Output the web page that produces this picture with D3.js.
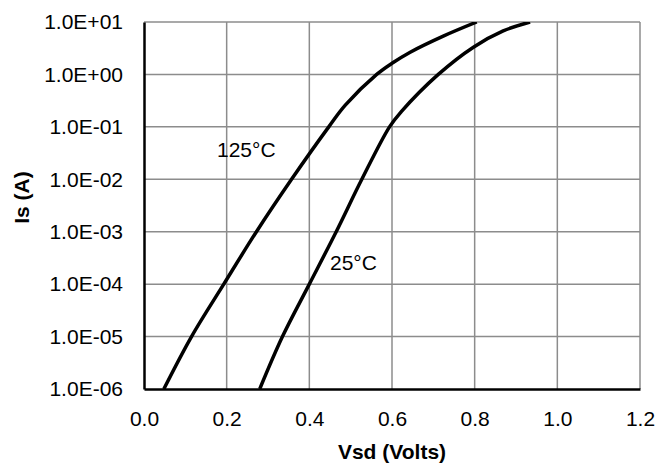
<!DOCTYPE html>
<html>
<head>
<meta charset="utf-8">
<script src="https://cdn.jsdelivr.net/npm/d3@7"></script>
<style>
  body { margin: 0; background: #fff; }
  text { font-family: Arial, "Liberation Sans", sans-serif; fill: #000; }
</style>
</head>
<body>
<div id="chart"></div>
<script>
// Data
const vsd125 = [0.048, 0.115, 0.193, 0.272, 0.357, 0.447, 0.487, 0.563, 0.6, 0.644, 0.724, 0.805];
const is125 = [1e-6, 1e-5, 1e-4, 1e-3, 1e-2, 0.1, 0.259, 1, 1.63, 2.65, 5.37, 10];
const vsd25 = [0.28, 0.335, 0.4, 0.465, 0.527, 0.594, 0.622, 0.712, 0.797, 0.869, 0.934];
const is25 = [1e-6, 1e-5, 1e-4, 1e-3, 1e-2, 0.1, 0.193, 1, 3.31, 6.76, 10];
const xTicks = [0, 0.2, 0.4, 0.6, 0.8, 1.0, 1.2];
const yTicks = [1e-6, 1e-5, 1e-4, 1e-3, 1e-2, 1e-1, 1, 10];
const yTickLabels = ["1.0E-06", "1.0E-05", "1.0E-04", "1.0E-03", "1.0E-02", "1.0E-01", "1.0E+00", "1.0E+01"];

const width = 667, height = 469;
const margin = { top: 22, right: 27, bottom: 80, left: 144 };
const w = width - margin.left - margin.right;
const h = height - margin.top - margin.bottom;

const svg = d3.select("#chart").append("svg")
  .attr("width", width).attr("height", height);

const ctr = svg.append("g")
  .attr("transform", `translate(${margin.left},${margin.top})`);

const x = d3.scaleLinear().domain([0, 1.2]).range([0, w]);
const y = d3.scaleLog().domain([1e-6, 10]).range([h, 0]);

// grid
ctr.append("g").selectAll("line").data(xTicks.slice(1)).join("line")
  .attr("x1", d => x(d)).attr("x2", d => x(d))
  .attr("y1", 0).attr("y2", h)
  .attr("stroke", "#8c8c8c").attr("stroke-width", 1.5);
ctr.append("g").selectAll("line").data(yTicks.slice(1)).join("line")
  .attr("x1", 0).attr("x2", w)
  .attr("y1", d => y(d)).attr("y2", d => y(d))
  .attr("stroke", "#8c8c8c").attr("stroke-width", 1.5);

// axes
const xAxis = ctr.append("g").attr("transform", `translate(0,${h})`)
  .call(d3.axisBottom(x).tickValues(xTicks).tickSize(0).tickPadding(22).tickFormat(d3.format(".1f")));
const yAxis = ctr.append("g")
  .call(d3.axisLeft(y).tickValues(yTicks).tickSize(0).tickPadding(21).tickFormat((d, i) => yTickLabels[i]));
[xAxis, yAxis].forEach(a => {
  a.select(".domain").attr("stroke", "#000").attr("stroke-width", 2.5);
  a.selectAll("text").style("font-size", "21px").attr("fill", "#000");
});

// curves
const line = d3.line()
  .x(d => x(d[0])).y(d => y(d[1]))
  .curve(d3.curveCatmullRom.alpha(0.5));

svg.append("clipPath").attr("id", "clip")
  .append("rect").attr("width", w).attr("height", h);

const series = [d3.zip(vsd125, is125), d3.zip(vsd25, is25)];
ctr.append("g").attr("clip-path", "url(#clip)")
  .selectAll("path").data(series).join("path")
  .attr("d", line)
  .attr("fill", "none").attr("stroke", "#000").attr("stroke-width", 3.5);

// curve labels
ctr.append("text").attr("x", 73).attr("y", 135).style("font-size", "21px").text("125°C");
ctr.append("text").attr("x", 186).attr("y", 248).style("font-size", "21px").text("25°C");

// titles
svg.append("text")
  .attr("x", margin.left + w / 2).attr("y", 459)
  .attr("text-anchor", "middle")
  .style("font-size", "21px").style("font-weight", "bold")
  .text("Vsd (Volts)");
svg.append("text")
  .attr("transform", `translate(29,${margin.top + h / 2 - 8}) rotate(-90)`)
  .attr("text-anchor", "middle")
  .style("font-size", "21px").style("font-weight", "bold")
  .text("Is (A)");
</script>
</body>
</html>
